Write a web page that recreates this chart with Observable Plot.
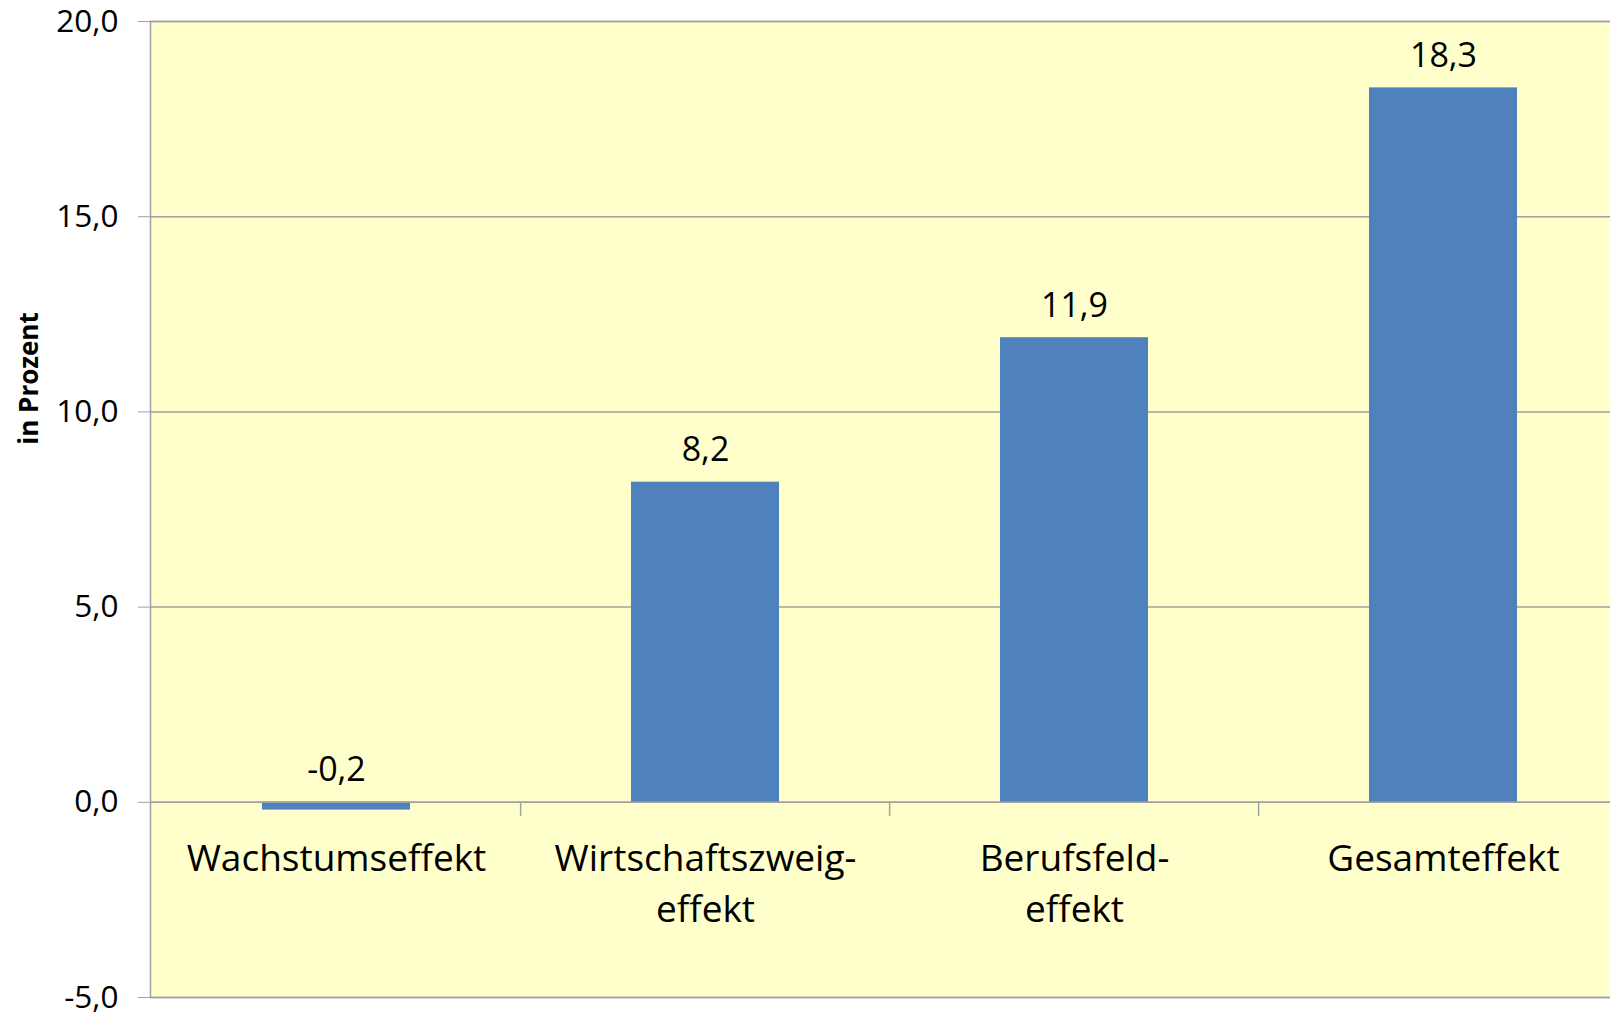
<!DOCTYPE html>
<html>
<head>
<meta charset="utf-8">
<script src="https://cdn.jsdelivr.net/npm/d3@7"></script>
<script src="https://cdn.jsdelivr.net/npm/@observablehq/plot@0.6"></script>
<style>
  html, body { margin: 0; padding: 0; background: #ffffff; overflow: hidden; }
  #chart svg { display: block; max-width: none !important; }
</style>
</head>
<body>
<div id="chart"></div>
<script>
// Zerlegung der Veränderung in Effekte (in Prozent)
const categories = ["Wachstumseffekt", "Wirtschaftszweig-\neffekt", "Berufsfeld-\neffekt", "Gesamteffekt"];
const values = [-0.2, 8.2, 11.9, 18.3];
const yTicks = [-5, 0, 5, 10, 15, 20];

const data = categories.map((c, i) => ({category: c, value: values[i]}));
const fmt = d => d.toFixed(1).replace(".", ",");

// the plot area runs on past the right edge of the page
const width = 1629, height = 1012;
const marginLeft = 150, marginRight = 0, marginTop = 21, marginBottom = 15;
const step = (width - marginLeft - marginRight) / categories.length;

const gridColor = "#a0a0a0";
const font = "'Open Sans', 'Noto Sans', sans-serif";

const chart = Plot.plot({
  width, height, marginLeft, marginRight, marginTop, marginBottom,
  style: {fontFamily: font, background: "transparent", color: "#000"},
  x: {domain: categories, paddingInner: 0.6, paddingOuter: 0.3, axis: null},
  y: {domain: [-5, 20], axis: null},
  marks: [
    Plot.frame({fill: "#ffffcc", stroke: null}),
    Plot.ruleY(yTicks, {stroke: gridColor, strokeWidth: 1.5}),
    Plot.barY(data, {x: "category", y: "value", fill: "#4f81bd"}),
    Plot.ruleY([0], {stroke: gridColor, strokeWidth: 1.5}),
    // category separators below the zero line
    Plot.ruleX(categories.slice(1), {x: d => d, y1: 0, y2: 0, insetBottom: -14, dx: -step / 2, stroke: gridColor, strokeWidth: 1.5}),
    Plot.axisY({
      ticks: yTicks, tickFormat: fmt, tickSize: 12, tickPadding: 20,
      fontSize: 31.5, stroke: gridColor, fill: "#000", label: null
    }),
    Plot.text(data, {
      x: "category", y: d => Math.max(d.value, 0), text: d => fmt(d.value),
      dy: -32, fontSize: 34, fill: "#000"
    }),
    Plot.text(data, {
      x: "category", y: () => 0, text: "category",
      lineAnchor: "top", lineHeight: 1.38, dy: 32, fontSize: 37, fill: "#000"
    }),
    Plot.text(["in Prozent"], {
      frameAnchor: "left", textAnchor: "middle", rotate: -90, dx: -121, dy: -131,
      fontSize: 26, fontWeight: "bold", fill: "#000"
    }),
    Plot.frame({stroke: gridColor, strokeWidth: 1.5, fill: null})
  ]
});
document.getElementById("chart").append(chart);
</script>
</body>
</html>
